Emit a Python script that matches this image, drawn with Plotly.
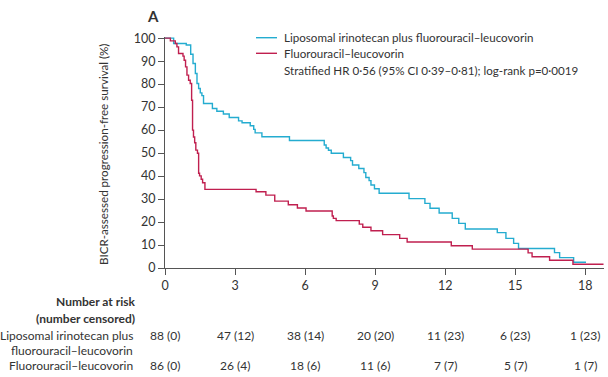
import plotly.graph_objects as go

# ---- data ----
lipo_t = [0, 0.37, 0.91, 1.10, 1.20, 1.30, 1.37, 1.44, 1.51, 1.58, 1.65, 2.03, 2.22, 2.50, 2.75,
          3.15, 3.30, 3.65, 3.80, 3.86, 4.15, 5.33, 6.82, 6.90, 7.00, 7.12, 7.64, 7.95, 8.03,
          8.30, 8.52, 8.60, 8.74, 8.82, 8.97, 9.17, 10.45, 11.13, 11.35, 11.74, 12.30, 12.58,
          12.86, 14.23, 14.60, 14.93, 15.14, 16.68, 16.90, 17.50, 18.03]
lipo_s = [100, 97.7, 97.0, 93.0, 89.0, 84.6, 80.3, 78.1, 76.2, 75.0, 71.6, 69.4, 68.2, 67.0, 65.5,
          64.0, 63.2, 61.9, 60.3, 58.8, 57.1, 55.5, 53.5, 52.2, 51.2, 49.9, 48.1, 46.7, 44.8,
          43.3, 41.5, 39.4, 38.0, 36.1, 34.5, 32.5, 30.2, 28.1, 26.0, 23.9, 21.6, 19.4,
          17.0, 15.4, 12.9, 10.7, 8.5, 6.7, 4.5, 2.5, 2.5]

fl_t = [0, 0.23, 0.44, 0.51, 0.58, 0.77, 0.82, 0.88, 0.94, 1.01, 1.08, 1.14, 1.18, 1.22, 1.27,
        1.32, 1.39, 1.44, 1.48, 1.55, 1.61, 1.71, 3.90, 4.32, 4.70, 5.28, 5.67, 6.04, 7.16,
        7.21, 7.33, 8.32, 8.47, 8.82, 9.32, 10.05, 10.37, 12.26, 13.16, 15.55, 15.72, 16.47,
        17.47, 18.78]
fl_s = [100, 98.8, 97.7, 96.2, 93.3, 92.2, 90.4, 87.5, 83.9, 81.7, 80.3, 73.0, 60.0, 57.0, 54.5,
        51.3, 49.9, 41.2, 40.1, 38.6, 37.1, 34.2, 33.2, 31.7, 29.1, 27.5, 26.1, 24.8, 22.6,
        21.6, 20.6, 19.1, 17.7, 16.2, 14.5, 12.9, 11.3, 9.7, 8.2, 6.6, 4.9, 3.4,
        1.6, 1.6]

risk_times = [0, 3, 6, 9, 12, 15, 18]
lipo_risk = ["88 (0)", "47 (12)", "38 (14)", "20 (20)", "11 (23)", "6 (23)", "1 (23)"]
fl_risk = ["86 (0)", "26 (4)", "18 (6)", "11 (6)", "7 (7)", "5 (7)", "1 (7)"]

lipo_name = "Liposomal irinotecan plus fluorouracil\u2013leucovorin"
fl_name = "Fluorouracil\u2013leucovorin"
stat_text = "Stratified HR 0\u00b756 (95% CI 0\u00b739\u20130\u00b781); log-rank p=0\u00b70019"
y_title = "BICR-assessed progression-free survival (%)"

BLUE = "#24acd0"
RED = "#c01f4f"
TXT = "#333333"
FONT = "Lato, sans-serif"

# ---- geometry helpers (pixel -> paper) ----
L, R, T, B = 165, 604, 37, 268
W, H = 608, 377
def px(x):
    return (x - L) / (R - L)
def py(y):
    return (B - y) / (B - T)

fig = go.Figure()
fig.add_trace(go.Scatter(x=lipo_t, y=lipo_s, mode="lines", line=dict(color=BLUE, width=1.4, shape="hv"),
                         showlegend=False, hoverinfo="skip"))
fig.add_trace(go.Scatter(x=fl_t, y=fl_s, mode="lines", line=dict(color=RED, width=1.4, shape="hv"),
                         showlegend=False, hoverinfo="skip"))

shapes = [
    dict(type="line", xref="paper", yref="paper", x0=px(256), x1=px(277), y0=py(37.7), y1=py(37.7),
         line=dict(color=BLUE, width=1.4)),
    dict(type="line", xref="paper", yref="paper", x0=px(256), x1=px(277), y0=py(53.3), y1=py(53.3),
         line=dict(color=RED, width=1.4)),
]

ann = []
def txt(x, y, s, xanchor="left", size=12, bold=False, xref="paper", angle=0):
    ann.append(dict(x=x, y=y, xref=xref, yref="paper", text=("<b>%s</b>" % s) if bold else s,
                    showarrow=False, xanchor=xanchor, yanchor="middle", textangle=angle,
                    font=dict(size=size, color=TXT, family=FONT)))

txt(px(282), py(37.7), lipo_name, size=11.6)
txt(px(282), py(53.3), fl_name, size=11.6)
txt(px(282), py(70), stat_text, size=11.6)
txt(px(145), py(16), "A", xanchor="left", size=15, bold=True)
txt(px(103), py(155), y_title, xanchor="center", angle=-90, size=11.6)

txt(px(137), py(301.7), "Number at risk", xanchor="right", bold=True)
txt(px(137), py(318.3), "(number censored)", xanchor="right", bold=True)
txt(px(135), py(335), "Liposomal irinotecan plus", xanchor="right")
txt(px(135), py(350), "fluorouracil\u2013leucovorin", xanchor="right")
txt(px(135), py(365), fl_name, xanchor="right")
for t, a, b in zip(risk_times, lipo_risk, fl_risk):
    txt(t, py(335), a, xanchor="center", xref="x")
    txt(t, py(365), b, xanchor="center", xref="x")

fig.update_layout(
    width=W, height=H,
    margin=dict(l=L, r=W - R, t=T, b=H - B, pad=0),
    paper_bgcolor="white", plot_bgcolor="white",
    font=dict(family=FONT, size=12, color=TXT),
    shapes=shapes, annotations=ann,
    xaxis=dict(range=[0, 18.8], tickvals=risk_times, ticks="outside", ticklen=6, tickcolor="#555",
               showline=True, linecolor="#555", linewidth=1, showgrid=False, zeroline=False,
               tickfont=dict(size=12.5, color=TXT, family=FONT)),
    yaxis=dict(range=[0, 100.5], tickvals=list(range(0, 101, 10)), ticks="outside", ticklen=6,
               tickcolor="#555", showline=True, linecolor="#555", linewidth=1, showgrid=False,
               zeroline=False, tickfont=dict(size=12.5, color=TXT, family=FONT)),
)

fig.write_html("out.html", config={"displayModeBar": False},
               post_script="document.body.style.margin='0';document.body.style.overflow='hidden';")
